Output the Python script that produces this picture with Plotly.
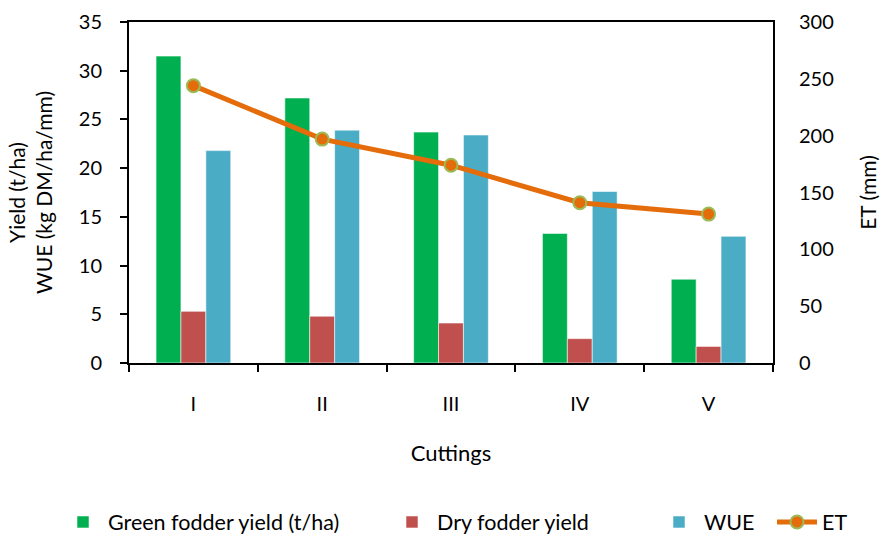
import plotly.graph_objects as go

cuttings = ["I", "II", "III", "IV", "V"]
green_yield = [31.5, 27.2, 23.7, 13.3, 8.6]
dry_yield = [5.3, 4.8, 4.1, 2.5, 1.7]
wue = [21.8, 23.9, 23.4, 17.6, 13.0]
et = [244, 197, 174, 141, 131]

FONT = "Lato"
fs = 20

L, R, T, B = 129, 118, 22, 171
W, H = 891, 534
pw = W - L - R
ph = H - T - B


def px_x(p):
    return (p - L) / pw


def px_y(p):
    return (H - B - p) / ph


fig = go.Figure()
edge = dict(color="rgba(255,255,255,0.55)", width=1)
fig.add_trace(go.Bar(x=cuttings, y=green_yield, name="Green fodder yield (t/ha)",
                     marker=dict(color="#00B050", line=edge), legend="legend"))
fig.add_trace(go.Bar(x=cuttings, y=dry_yield, name="Dry fodder yield",
                     marker=dict(color="#C0504D", line=edge), legend="legend2"))
fig.add_trace(go.Bar(x=cuttings, y=wue, name="WUE",
                     marker=dict(color="#4BACC6", line=edge), legend="legend3"))
fig.add_trace(go.Scatter(x=cuttings, y=et, name="ET", yaxis="y2", mode="lines+markers",
                         line=dict(color="#E46C0A", width=5),
                         marker=dict(color="#E46C0A", size=13,
                                     line=dict(color="#9BBB59", width=2)),
                         legend="legend4"))


def leg(text_start):
    return dict(orientation="h", x=px_x(text_start - 50), xanchor="left",
                y=px_y(522), yanchor="middle", font=dict(size=21.5),
                itemwidth=40, bgcolor="rgba(0,0,0,0)")


fig.update_layout(
    width=W, height=H,
    margin=dict(l=L, r=R, t=T, b=B, autoexpand=False),
    paper_bgcolor="white", plot_bgcolor="white",
    font=dict(family=FONT, size=fs, color="black"),
    barmode="group", bargap=0.42, bargroupgap=0,
    showlegend=True,
    legend=leg(108), legend2=leg(437), legend3=leg(704), legend4=leg(822),
    xaxis=dict(
        type="category", showline=True, linecolor="black", linewidth=2, mirror=True,
        ticks="outside", tickson="boundaries", ticklen=7, tickcolor="black", tickwidth=2,
        ticklabelstandoff=22, automargin=False,
        title=dict(text="Cuttings", standoff=32, font=dict(size=22)),
        showgrid=False, zeroline=False,
    ),
    yaxis=dict(
        range=[0, 35], dtick=5, showline=True, linecolor="black", linewidth=2,
        ticks="outside", ticklen=7, tickcolor="black", tickwidth=2,
        ticklabelstandoff=14, automargin=False,
        showgrid=False, zeroline=False,
        title=dict(text="Yield (t/ha)<br>WUE (kg DM/ha/mm)", standoff=20,
                   font=dict(size=21)),
    ),
    yaxis2=dict(
        range=[0, 300], dtick=50, overlaying="y", side="right",
        showline=True, linecolor="black", linewidth=2, ticks="",
        ticklabelstandoff=20, automargin=False,
        showgrid=False, zeroline=False,
        title=dict(text="ET (mm)", standoff=28, font=dict(size=21)),
    ),
)

fig.write_html("out.html", config={"displayModeBar": False},
               post_script="document.body.style.margin='0';document.body.style.overflow='hidden';")
